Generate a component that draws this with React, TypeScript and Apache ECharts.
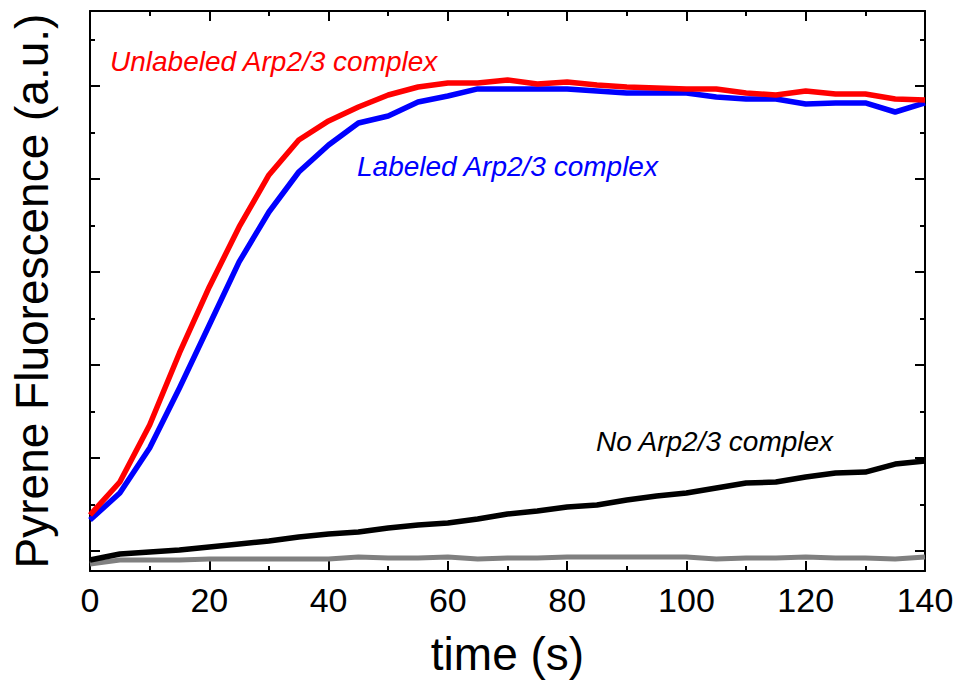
import React, { useEffect, useRef } from "react";
import * as echarts from "echarts";

const timeS = [0, 5, 10, 15, 20, 25, 30, 35, 40, 45, 50, 55, 60, 65, 70, 75, 80, 85, 90, 95, 100, 105, 110, 115, 120, 125, 130, 135, 140];
const unlabeledArp = [0.387, 0.742, 1.355, 2.129, 2.839, 3.484, 4.043, 4.419, 4.624, 4.774, 4.903, 4.989, 5.032, 5.032, 5.065, 5.022, 5.043, 5.011, 4.989, 4.978, 4.968, 4.968, 4.925, 4.903, 4.946, 4.914, 4.914, 4.86, 4.849];
const labeledArp = [0.333, 0.624, 1.108, 1.753, 2.43, 3.108, 3.645, 4.075, 4.366, 4.602, 4.677, 4.828, 4.892, 4.968, 4.968, 4.968, 4.968, 4.946, 4.925, 4.925, 4.925, 4.882, 4.86, 4.86, 4.806, 4.817, 4.817, 4.72, 4.817];
const noArp = [-0.097, -0.032, -0.011, 0.011, 0.043, 0.075, 0.108, 0.151, 0.183, 0.204, 0.247, 0.28, 0.301, 0.344, 0.398, 0.43, 0.473, 0.495, 0.548, 0.591, 0.624, 0.677, 0.731, 0.742, 0.796, 0.839, 0.849, 0.935, 0.968];
const baselineOnly = [-0.14, -0.097, -0.097, -0.097, -0.086, -0.086, -0.086, -0.086, -0.086, -0.065, -0.075, -0.075, -0.065, -0.086, -0.075, -0.075, -0.065, -0.065, -0.065, -0.065, -0.065, -0.086, -0.075, -0.075, -0.065, -0.075, -0.075, -0.086, -0.065];

const yMajorTicks = [0, 1, 2, 3, 4, 5];
const yMinorTicks = [0.5, 1.5, 2.5, 3.5, 4.5, 5.5];
const Y_MIN = -0.215;
const Y_MAX = 5.806;

const FONT = '"Liberation Sans", Arial, Helvetica, sans-serif';

const labels = [
  { text: "Unlabeled Arp2/3 complex", color: "#ff0000", x: 110, y: 61 },
  { text: "Labeled Arp2/3 complex", color: "#0000ff", x: 357, y: 166 },
  { text: "No Arp2/3 complex", color: "#000000", x: 596, y: 441 },
];

function yAxisDef(position: string, ticks: number[], len: number, showLine: boolean) {
  return {
    type: "value",
    min: Y_MIN,
    max: Y_MAX,
    position,
    axisLine: { show: showLine, onZero: false, lineStyle: { color: "#000", width: 2 } },
    axisTick: { show: true, inside: true, length: len, customValues: ticks, lineStyle: { color: "#000", width: 2 } },
    axisLabel: { show: false },
    splitLine: { show: false },
  };
}

export default function App() {
  const ref = useRef<HTMLDivElement>(null);
  useEffect(() => {
    if (!ref.current) return;
    const chart = echarts.init(ref.current, null, { renderer: "svg" });
    const mk = (arr: number[]) => timeS.map((t, i) => [t, arr[i]]);
    const lineSeries = (name: string, arr: number[], color: string, width: number, z: number) => ({
      type: "line",
      name,
      data: mk(arr),
      showSymbol: false,
      symbol: "none",
      z,
      lineStyle: { color, width, join: "round" },
      xAxisIndex: 0,
      yAxisIndex: 0,
    });
    chart.setOption({
      animation: false,
      backgroundColor: "#ffffff",
      grid: { left: 90, right: 35, top: 11, bottom: 116, containLabel: false },
      xAxis: [
        {
          type: "value",
          min: 0,
          max: 140,
          interval: 20,
          position: "bottom",
          name: "time (s)",
          nameLocation: "middle",
          nameGap: 60,
          nameTextStyle: { fontFamily: FONT, fontSize: 46, color: "#000" },
          axisLine: { onZero: false, lineStyle: { color: "#000", width: 2 } },
          axisTick: { inside: true, length: 10, lineStyle: { color: "#000", width: 2 } },
          minorTick: { show: true, splitNumber: 2, length: 5, lineStyle: { color: "#000", width: 2 } },
          axisLabel: { fontFamily: FONT, fontSize: 34, color: "#000", margin: 12 },
          splitLine: { show: false },
          minorSplitLine: { show: false },
        },
        {
          type: "value",
          min: 0,
          max: 140,
          interval: 20,
          position: "top",
          axisLine: { onZero: false, lineStyle: { color: "#000", width: 2 } },
          axisTick: { inside: true, length: 10, lineStyle: { color: "#000", width: 2 } },
          minorTick: { show: true, splitNumber: 2, length: 5, lineStyle: { color: "#000", width: 2 } },
          axisLabel: { show: false },
          splitLine: { show: false },
        },
      ],
      yAxis: [
        {
          ...yAxisDef("left", yMajorTicks, 10, true),
          name: "Pyrene Fluorescence (a.u.)",
          nameLocation: "middle",
          nameGap: 35,
          nameTextStyle: { fontFamily: FONT, fontSize: 46, color: "#000" },
        },
        yAxisDef("left", yMinorTicks, 5, false),
        yAxisDef("right", yMajorTicks, 10, true),
        yAxisDef("right", yMinorTicks, 5, false),
      ],
      series: [
        lineSeries("No Arp2/3 (baseline)", baselineOnly, "#808080", 5, 2),
        lineSeries("No Arp2/3 complex", noArp, "#000000", 5.5, 3),
        lineSeries("Labeled Arp2/3 complex", labeledArp, "#0000ff", 5.5, 4),
        lineSeries("Unlabeled Arp2/3 complex", unlabeledArp, "#ff0000", 5.5, 5),
      ],
      graphic: labels.map((l) => ({
        type: "text",
        x: l.x,
        y: l.y,
        style: {
          text: l.text,
          fill: l.color,
          font: `italic 28px ${FONT}`,
          verticalAlign: "middle",
          align: "left",
        },
      })),
    });
    return () => chart.dispose();
  }, []);
  return (
    <div
      ref={ref}
      style={{ position: "fixed", left: 0, top: 0, width: 960, height: 687, background: "#fff" }}
    />
  );
}
